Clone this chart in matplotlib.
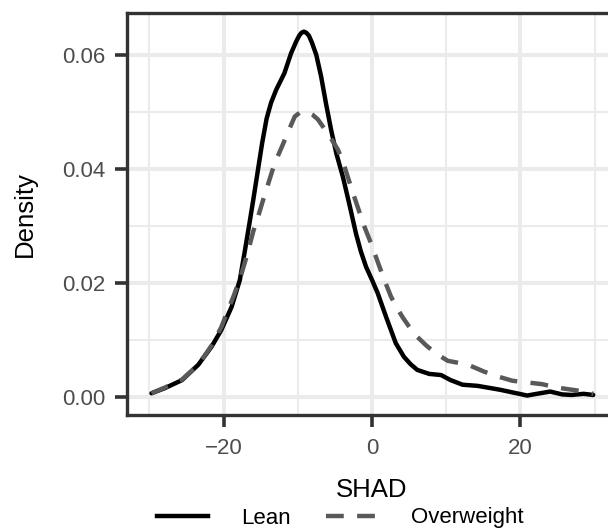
import numpy as np
import matplotlib
matplotlib.use('Agg')
import matplotlib.pyplot as plt
from matplotlib.lines import Line2D

plt.rcParams['font.family'] = ['Liberation Sans', 'DejaVu Sans']

# density curves
lean_x = [-29.7, -27.9, -25.6, -23.4, -21.6, -20.3, -18.9, -17.8, -17.1, -16.5,
          -16.0, -15.4, -14.8, -14.2, -13.6, -12.9, -11.8, -10.9, -10.2, -9.8,
          -9.5, -9.17, -8.85, -8.5, -8.1, -7.5, -6.85, -6.2, -5.5, -4.8,
          -3.9, -3.0, -2.15, -1.5, -0.8, 0.0, 0.76, 1.9, 3.2, 4.3,
          5.2, 6.1, 7.7, 9.3, 10.6, 12.2, 14.2, 16.0, 17.3, 19.1,
          20.9, 22.2, 24.0, 25.6, 26.9, 28.5, 29.8]
lean_y = [0.0006, 0.0015, 0.0029, 0.0056, 0.0088, 0.0117, 0.0158, 0.0205, 0.0258, 0.0305,
          0.0345, 0.0395, 0.0445, 0.0488, 0.0516, 0.0539, 0.0568, 0.0603, 0.0624, 0.0634,
          0.0639, 0.0641, 0.0639, 0.0634, 0.0622, 0.0600, 0.0562, 0.0515, 0.0468, 0.0427,
          0.0385, 0.0335, 0.0286, 0.0255, 0.0228, 0.0205, 0.0182, 0.0140, 0.0094, 0.0070,
          0.0057, 0.0047, 0.0040, 0.0038, 0.0029, 0.0021, 0.0019, 0.0015, 0.0012, 0.0007,
          0.0002, 0.0005, 0.0009, 0.0004, 0.0003, 0.0005, 0.0003]

over_x = [-29.7, -27.9, -25.6, -23.4, -21.6, -20.3, -19.4, -18.6, -17.6, -16.8,
          -16.0, -15.3, -14.7, -14.0, -13.3, -12.9, -12.1, -11.3, -10.4, -9.7,
          -9.2, -8.6, -8.0, -7.3, -6.6, -5.6, -4.6, -3.9, -2.7, -1.1,
          0.0, 0.76, 1.6, 2.55, 3.3, 4.2, 5.0, 6.1, 7.3, 8.6,
          10.2, 11.8, 13.3, 15.1, 16.8, 18.9, 20.9, 22.9, 24.9, 26.5,
          28.1, 29.8]
over_y = [0.0006, 0.0016, 0.0030, 0.0056, 0.0090, 0.0122, 0.0152, 0.0178, 0.0215, 0.0250,
          0.0290, 0.0318, 0.0344, 0.0373, 0.0402, 0.0416, 0.0440, 0.0465, 0.0492, 0.0499,
          0.0500, 0.0499, 0.0495, 0.0487, 0.0474, 0.0455, 0.0434, 0.0412, 0.0363, 0.0301,
          0.0265, 0.0237, 0.0207, 0.0176, 0.0157, 0.0138, 0.0123, 0.0105, 0.0090, 0.0076,
          0.0063, 0.0059, 0.0054, 0.0044, 0.0036, 0.0028, 0.0025, 0.0022, 0.0016, 0.0013,
          0.0010, 0.0005]

x_major = [-20, 0, 20]
x_minor = [-30, -10, 10, 30]
y_major = [0.00, 0.02, 0.04, 0.06]
y_minor = [0.01, 0.03, 0.05]

border = '#333333'
dash = (0, (4.0, 3.0))
lw = 3.2

fig = plt.figure(figsize=(6.08, 5.29), dpi=100)
ax = fig.add_axes([127 / 608, 1 - 414.9 / 529, (617 - 127) / 608, (414.9 - 13.4) / 529])

ax.set_xlim(-33, 33)
ax.set_ylim(-0.0032, 0.0673)
ax.set_xticks(x_major)
ax.set_xticks(x_minor, minor=True)
ax.set_yticks(y_major)
ax.set_yticks(y_minor, minor=True)
ax.set_yticklabels(['0.00', '0.02', '0.04', '0.06'])

ax.grid(which='major', color='#EBEBEB', lw=2.9, zorder=0)
ax.grid(which='minor', color='#EBEBEB', lw=1.45, zorder=0)
ax.set_axisbelow(True)

ax.plot(lean_x, lean_y, color='black', lw=lw, solid_capstyle='round',
        solid_joinstyle='round', zorder=3)
ax.plot(over_x, over_y, color='#595959', lw=lw, linestyle=dash,
        dash_capstyle='butt', zorder=4)

for side in ['left', 'top', 'bottom', 'right']:
    ax.spines[side].set_color(border)
    ax.spines[side].set_linewidth(2.4)

ax.tick_params(which='major', length=8.5, width=2.6, color=border,
               labelcolor='#4D4D4D', labelsize=16)
ax.tick_params(axis='x', which='major', pad=8)
ax.tick_params(axis='y', which='major', pad=7)
ax.tick_params(which='minor', length=0)

ax.set_xlabel('SHAD', fontsize=18.5, color='black', labelpad=14)
ax.set_ylabel('Density', fontsize=18.5, color='black', labelpad=18)

handles = [Line2D([], [], color='black', lw=lw),
           Line2D([], [], color='#595959', lw=lw, linestyle=dash)]
fig.legend(handles, ['Lean', 'Overweight'], loc='center', ncol=2,
           bbox_to_anchor=(340 / 608, 1 - 518 / 529), frameon=False,
           fontsize=16, handlelength=2.3, handletextpad=1.5, columnspacing=1.6)

fig.savefig('out.png', dpi=100)
